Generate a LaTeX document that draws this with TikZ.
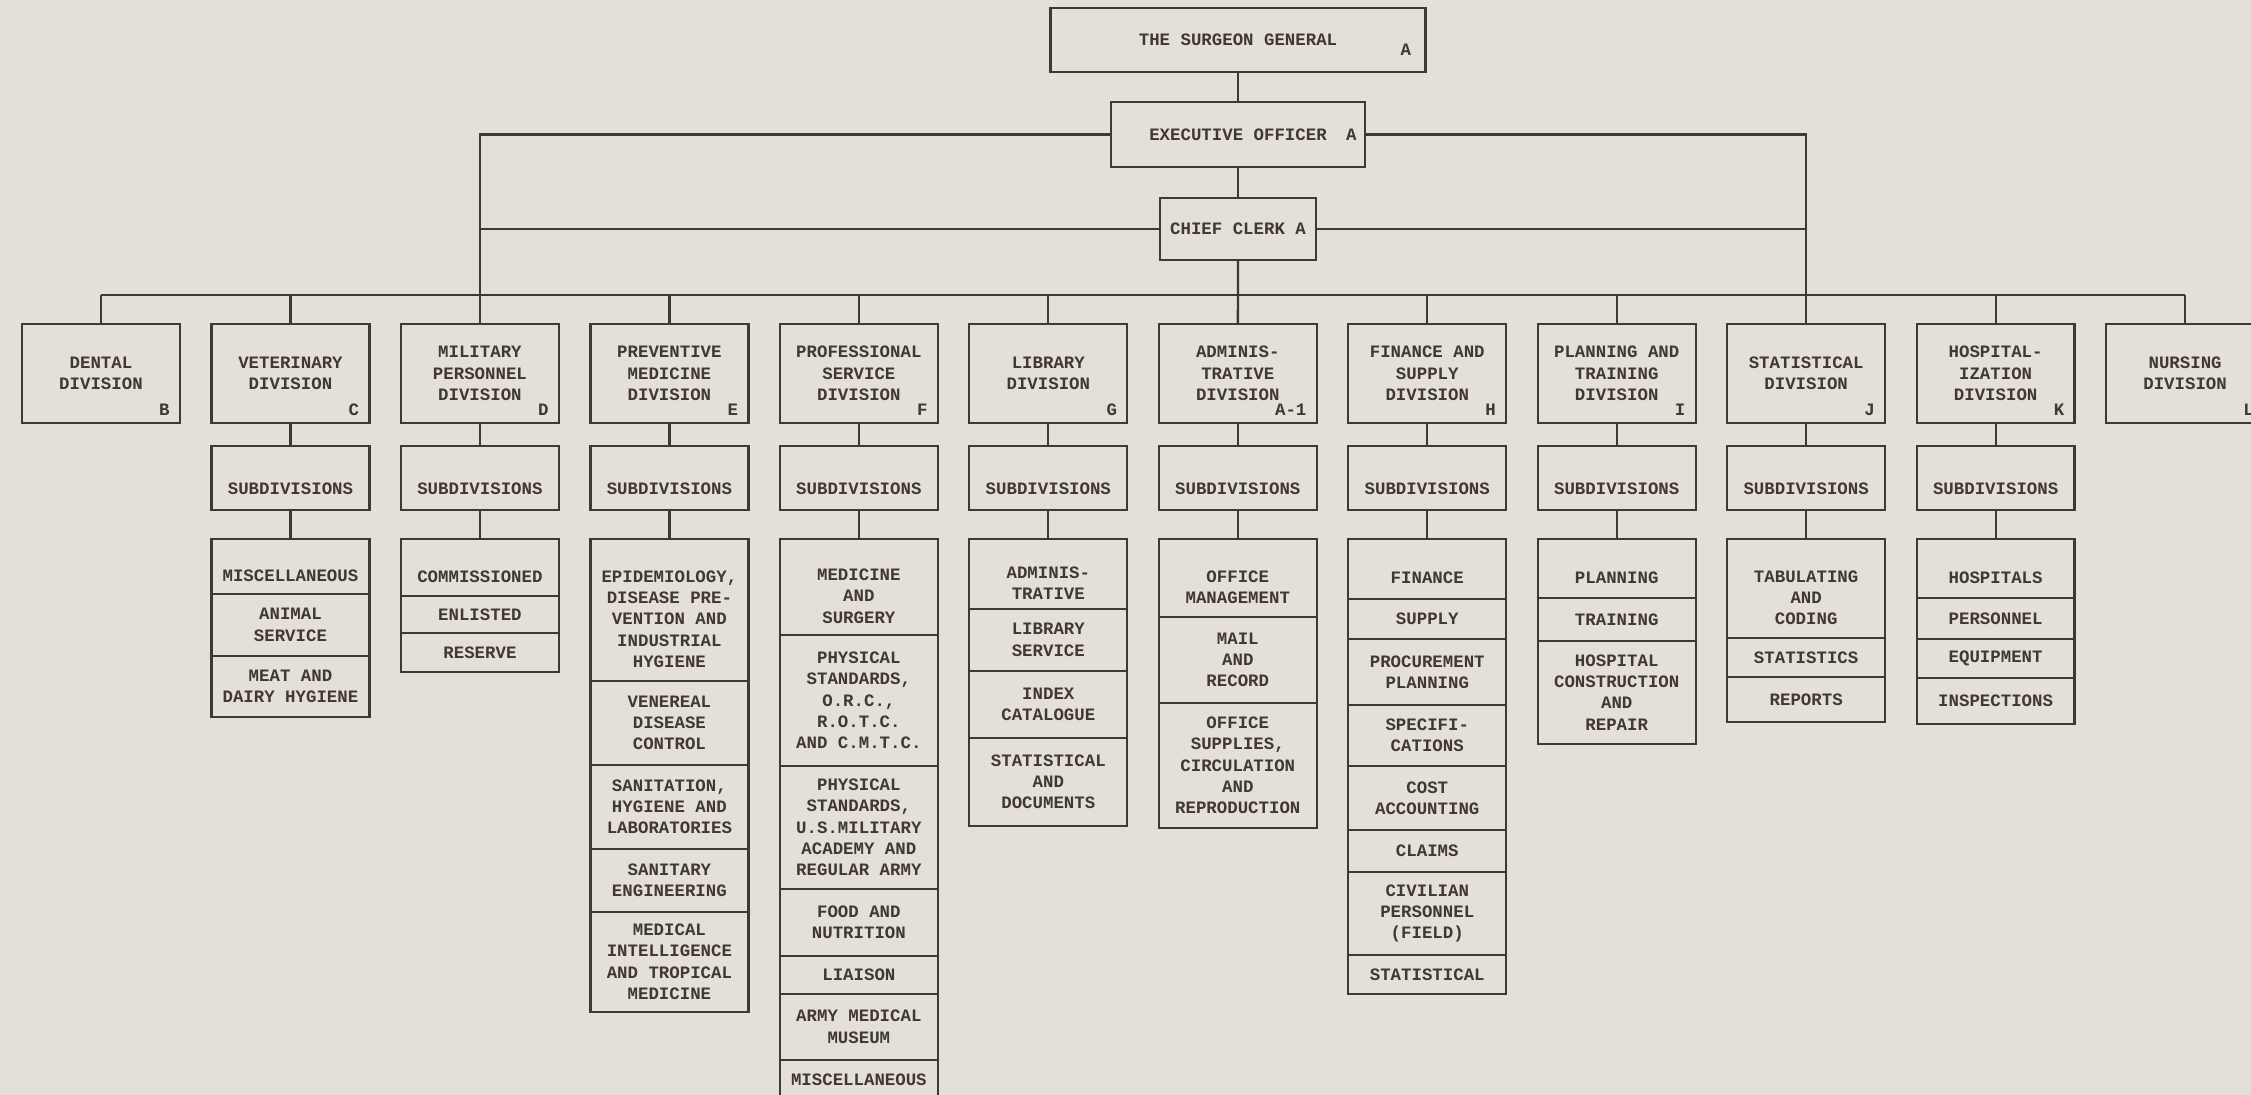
\documentclass[tikz,border=0pt]{standalone}
\usepackage{fontspec}
\usepackage{xcolor}
\usetikzlibrary{positioning}
\newfontfamily\typewr{Liberation Mono}
\definecolor{paper}{RGB}{229,224,215}
\definecolor{ink}{RGB}{64,56,50}
\newcommand{\firstgap}{\rule{0pt}{6mm}}
\tikzstyle{txt} = [font=\typewr\bfseries\fontsize{9.9}{12.1}\selectfont, text=ink]
\tikzstyle{orgbox} = [txt, draw=ink, line width=1.3pt, rectangle, align=center,
   inner sep=2pt, outer sep=0pt]
\tikzstyle{divbox} = [orgbox, minimum width=3.16cm, minimum height=1.98cm]
\tikzstyle{subbox} = [orgbox, minimum width=3.16cm, minimum height=1.28cm,
   text height=0.68cm, text depth=0pt]
\tikzstyle{cell} = [orgbox, minimum width=3.16cm]
\tikzstyle{tag} = [txt, inner sep=0pt, anchor=south east]
\tikzstyle{wire} = [draw=ink, line width=1.3pt]
\begin{document}
\begin{tikzpicture}[x=0.02cm, y=-0.02cm]
  \useasboundingbox (0,0) rectangle (2251,1095);
  \fill[paper] (0,0) rectangle (2251,1095);
  \clip (0,0) rectangle (2251,1095);

  % head of the office
  \node[orgbox, minimum width=7.5cm, minimum height=1.28cm] (sg) at (1238,40) {THE SURGEON GENERAL};
  \node[tag, anchor=east] (sgtag) at ([xshift=-0.28cm, yshift=-0.2cm]sg.east) {A};
  \node[orgbox, minimum width=5.08cm, minimum height=1.3cm, below=0.6cm of sg] (eo) {EXECUTIVE OFFICER};
  \node[tag, anchor=east] (eotag) at ([xshift=-0.16cm]eo.east) {A};
  \node[orgbox, minimum width=3.12cm, minimum height=1.24cm, below=0.62cm of eo] (cc) {CHIEF CLERK A};

  % divisions
  \node[divbox] (dental) at (101,373.5) {DENTAL\\DIVISION};
  \node[divbox, right=0.63cm of dental] (vet) {VETERINARY\\DIVISION};
  \node[divbox, right=0.63cm of vet] (milpers) {MILITARY\\PERSONNEL\\DIVISION};
  \node[divbox, right=0.63cm of milpers] (prevmed) {PREVENTIVE\\MEDICINE\\DIVISION};
  \node[divbox, right=0.63cm of prevmed] (profserv) {PROFESSIONAL\\SERVICE\\DIVISION};
  \node[divbox, right=0.63cm of profserv] (library) {LIBRARY\\DIVISION};
  \node[divbox, right=0.63cm of library] (admin) {ADMINIS-\\TRATIVE\\DIVISION};
  \node[divbox, right=0.63cm of admin] (finsup) {FINANCE AND\\SUPPLY\\DIVISION};
  \node[divbox, right=0.63cm of finsup] (plantrain) {PLANNING AND\\TRAINING\\DIVISION};
  \node[divbox, right=0.63cm of plantrain] (statis) {STATISTICAL\\DIVISION};
  \node[divbox, right=0.63cm of statis] (hospital) {HOSPITAL-\\IZATION\\DIVISION};
  \node[divbox, right=0.63cm of hospital] (nursing) {NURSING\\DIVISION};

  \foreach \d/\t in {dental/B, vet/C, milpers/D, prevmed/E, profserv/F, library/G,
      admin/A-1, finsup/H, plantrain/I, statis/J, hospital/K, nursing/L}
    \node[tag] (tag\d) at ([xshift=-0.2cm, yshift=0.14cm]\d.south east) {\t};

  % subdivisions
  \foreach \d in {vet, milpers, prevmed, profserv, library, admin, finsup, plantrain, statis, hospital}
    \node[subbox, below=0.46cm of \d] (sub\d) {SUBDIVISIONS};

  % veterinary
  \node[cell, minimum height=1.10cm, below=0.58cm of subvet] (vet1) {\firstgap MISCELLANEOUS};
  \node[cell, minimum height=1.24cm, below=0pt of vet1] (vet2) {ANIMAL\\SERVICE};
  \node[cell, minimum height=1.22cm, below=0pt of vet2] (vet3) {MEAT AND\\DAIRY HYGIENE};

  % military personnel
  \node[cell, minimum height=1.14cm, below=0.58cm of submilpers] (milpers1) {\firstgap COMMISSIONED};
  \node[cell, minimum height=0.74cm, below=0pt of milpers1] (milpers2) {ENLISTED};
  \node[cell, minimum height=0.78cm, below=0pt of milpers2] (milpers3) {RESERVE};

  % preventive medicine
  \node[cell, minimum height=2.84cm, below=0.58cm of subprevmed] (prevmed1) {\firstgap EPIDEMIOLOGY,\\DISEASE PRE-\\VENTION AND\\INDUSTRIAL\\HYGIENE};
  \node[cell, minimum height=1.68cm, below=0pt of prevmed1] (prevmed2) {VENEREAL\\DISEASE\\CONTROL};
  \node[cell, minimum height=1.68cm, below=0pt of prevmed2] (prevmed3) {SANITATION,\\HYGIENE AND\\LABORATORIES};
  \node[cell, minimum height=1.26cm, below=0pt of prevmed3] (prevmed4) {SANITARY\\ENGINEERING};
  \node[cell, minimum height=2.00cm, below=0pt of prevmed4] (prevmed5) {MEDICAL\\INTELLIGENCE\\AND TROPICAL\\MEDICINE};

  % professional service
  \node[cell, minimum height=1.92cm, below=0.58cm of subprofserv] (profserv1) {\firstgap MEDICINE\\AND\\SURGERY};
  \node[cell, minimum height=2.62cm, below=0pt of profserv1] (profserv2) {PHYSICAL\\STANDARDS,\\O.R.C.,\\R.O.T.C.\\AND C.M.T.C.};
  \node[cell, minimum height=2.46cm, below=0pt of profserv2] (profserv3) {PHYSICAL\\STANDARDS,\\U.S.MILITARY\\ACADEMY AND\\REGULAR ARMY};
  \node[cell, minimum height=1.34cm, below=0pt of profserv3] (profserv4) {FOOD AND\\NUTRITION};
  \node[cell, minimum height=0.76cm, below=0pt of profserv4] (profserv5) {LIAISON};
  \node[cell, minimum height=1.32cm, below=0pt of profserv5] (profserv6) {ARMY MEDICAL\\MUSEUM};
  \node[cell, minimum height=0.80cm, below=0pt of profserv6] (profserv7) {MISCELLANEOUS};

  % library
  \node[cell, minimum height=1.40cm, below=0.58cm of sublibrary] (library1) {\firstgap ADMINIS-\\TRATIVE};
  \node[cell, minimum height=1.24cm, below=0pt of library1] (library2) {LIBRARY\\SERVICE};
  \node[cell, minimum height=1.34cm, below=0pt of library2] (library3) {INDEX\\CATALOGUE};
  \node[cell, minimum height=1.76cm, below=0pt of library3] (library4) {STATISTICAL\\AND\\DOCUMENTS};

  % administrative
  \node[cell, minimum height=1.56cm, below=0.58cm of subadmin] (admin1) {\firstgap OFFICE\\MANAGEMENT};
  \node[cell, minimum height=1.72cm, below=0pt of admin1] (admin2) {MAIL\\AND\\RECORD};
  \node[cell, minimum height=2.50cm, below=0pt of admin2] (admin3) {OFFICE\\SUPPLIES,\\CIRCULATION\\AND\\REPRODUCTION};

  % finance and supply
  \node[cell, minimum height=1.20cm, below=0.58cm of subfinsup] (finsup1) {\firstgap FINANCE};
  \node[cell, minimum height=0.80cm, below=0pt of finsup1] (finsup2) {SUPPLY};
  \node[cell, minimum height=1.32cm, below=0pt of finsup2] (finsup3) {PROCUREMENT\\PLANNING};
  \node[cell, minimum height=1.22cm, below=0pt of finsup3] (finsup4) {SPECIFI-\\CATIONS};
  \node[cell, minimum height=1.28cm, below=0pt of finsup4] (finsup5) {COST\\ACCOUNTING};
  \node[cell, minimum height=0.84cm, below=0pt of finsup5] (finsup6) {CLAIMS};
  \node[cell, minimum height=1.66cm, below=0pt of finsup6] (finsup7) {CIVILIAN\\PERSONNEL\\(FIELD)};
  \node[cell, minimum height=0.78cm, below=0pt of finsup7] (finsup8) {STATISTICAL};

  % planning and training
  \node[cell, minimum height=1.18cm, below=0.58cm of subplantrain] (plantrain1) {\firstgap PLANNING};
  \node[cell, minimum height=0.86cm, below=0pt of plantrain1] (plantrain2) {TRAINING};
  \node[cell, minimum height=2.06cm, below=0pt of plantrain2] (plantrain3) {HOSPITAL\\CONSTRUCTION\\AND\\REPAIR};

  % statistical
  \node[cell, minimum height=1.98cm, below=0.58cm of substatis] (statis1) {\firstgap TABULATING\\AND\\CODING};
  \node[cell, minimum height=0.78cm, below=0pt of statis1] (statis2) {STATISTICS};
  \node[cell, minimum height=0.90cm, below=0pt of statis2] (statis3) {REPORTS};

  % hospitalization
  \node[cell, minimum height=1.18cm, below=0.58cm of subhospital] (hospital1) {\firstgap HOSPITALS};
  \node[cell, minimum height=0.82cm, below=0pt of hospital1] (hospital2) {PERSONNEL};
  \node[cell, minimum height=0.78cm, below=0pt of hospital2] (hospital3) {EQUIPMENT};
  \node[cell, minimum height=0.92cm, below=0pt of hospital3] (hospital4) {INSPECTIONS};

  % lines of the head
  \draw[wire] (sg) -- (eo);
  \draw[wire] (eo) -- (cc);
  \draw[wire] (cc) -- (admin);
  \draw[wire] (eo.west) -| (milpers.north);
  \draw[wire] (eo.east) -| (statis.north);
  \draw[wire] (cc.west) -- (cc.west -| milpers.north);
  \draw[wire] (cc.east) -- (cc.east -| statis.north);

  % bus to the divisions
  \coordinate (bus) at (0,295);
  \draw[wire] (dental.north |- bus) -- (nursing.north |- bus);
  \foreach \d in {dental, vet, prevmed, profserv, library, finsup, plantrain, hospital, nursing}
    \draw[wire] (\d.north) -- (\d.north |- bus);

  % division -- subdivisions -- list
  \foreach \d in {vet, milpers, prevmed, profserv, library, admin, finsup, plantrain, statis, hospital}
    \draw[wire] (\d) -- (sub\d) -- (\d1);
\end{tikzpicture}
\end{document}
